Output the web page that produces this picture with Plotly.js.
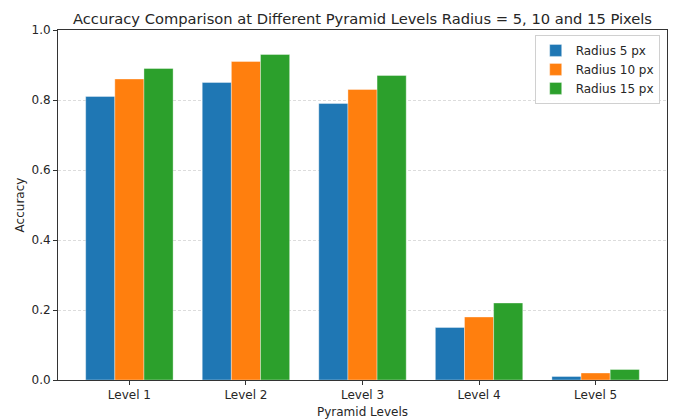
<!DOCTYPE html>
<html>
<head>
<meta charset="utf-8">
<script src="https://cdn.plot.ly/plotly-3.0.1.min.js"></script>
<style>html,body{margin:0;padding:0;background:#fff;}#chart{width:674px;height:420px;}</style>
</head>
<body>
<div id="chart"></div>
<script>
const categories = ["Level 1", "Level 2", "Level 3", "Level 4", "Level 5"];
const seriesNames = ["Radius 5 px", "Radius 10 px", "Radius 15 px"];
const radius5 = [0.81, 0.85, 0.79, 0.15, 0.01];
const radius10 = [0.86, 0.91, 0.83, 0.18, 0.02];
const radius15 = [0.89, 0.93, 0.87, 0.22, 0.03];
const colors = ["#1f77b4", "#ff7f0e", "#2ca02c"];
const yTicks = [0, 0.2, 0.4, 0.6, 0.8, 1.0];
const yTickLabels = ["0.0", "0.2", "0.4", "0.6", "0.8", "1.0"];

const allSeries = [radius5, radius10, radius15];
const traces = allSeries.map((vals, i) => ({
  type: "bar",
  name: seriesNames[i],
  x: categories.map((c, k) => k),
  y: vals,
  marker: {color: colors[i], line: {color: "rgba(255,255,255,0.6)", width: 0.6}},
  hoverinfo: "skip"
}));

const font = "DejaVu Sans, sans-serif";
const layout = {
  width: 674, height: 420,
  margin: {l: 58, r: 7, t: 30, b: 40},
  paper_bgcolor: "#fff", plot_bgcolor: "#fff",
  barmode: "group", bargap: 0.25, bargroupgap: 0,
  font: {family: font, color: "#262626", size: 12},
  title: {text: "Accuracy Comparison at Different Pyramid Levels Radius = 5, 10 and 15 Pixels",
          font: {family: font, size: 14.7, color: "#262626"}, x: 0.5, xref: "paper", xanchor: "center",
          y: 1, yref: "paper", yanchor: "bottom", pad: {b: 6}},
  xaxis: {
    range: [-0.6125, 4.6125],
    tickmode: "array", tickvals: categories.map((c, k) => k), ticktext: categories,
    ticks: "outside", ticklen: 4, tickcolor: "#333", tickwidth: 1,
    showline: true, linecolor: "#333", linewidth: 1, mirror: true,
    showgrid: false, zeroline: false,
    tickfont: {family: font, size: 12, color: "#262626"},
    title: {text: "Pyramid Levels", font: {family: font, size: 12, color: "#262626"}, standoff: 6}
  },
  yaxis: {
    range: [0, 1.0],
    tickmode: "array", tickvals: yTicks, ticktext: yTickLabels,
    ticks: "outside", ticklen: 4, tickcolor: "#333", tickwidth: 1,
    showline: true, linecolor: "#333", linewidth: 1, mirror: true,
    showgrid: true, gridcolor: "rgba(176,176,176,0.55)", griddash: "3px,2px", gridwidth: 0.8,
    zeroline: false,
    tickfont: {family: font, size: 12, color: "#262626"},
    title: {text: "Accuracy", font: {family: font, size: 12, color: "#262626"}, standoff: 4}
  },
  legend: {
    x: 0.988, y: 0.986, xanchor: "right", yanchor: "top",
    bgcolor: "rgba(255,255,255,0.9)", bordercolor: "#d0d0d0", borderwidth: 1,
    font: {family: font, size: 12, color: "#262626"},
    itemwidth: 30, tracegroupgap: 2
  },
  showlegend: true
};

Plotly.newPlot("chart", traces, layout, {displayModeBar: false, staticPlot: true});
</script>
</body>
</html>
